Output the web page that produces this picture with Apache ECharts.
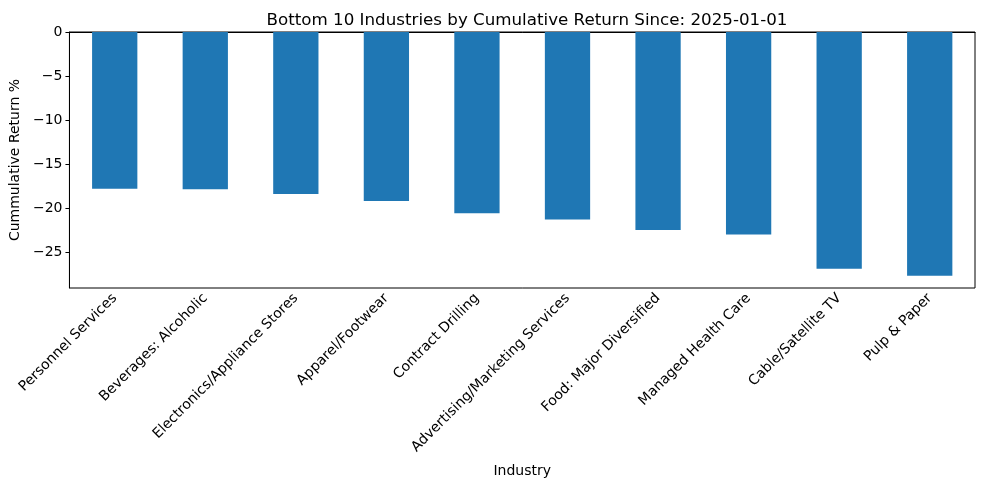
<!DOCTYPE html>
<html>
<head>
<meta charset="utf-8">
<script src="https://cdn.jsdelivr.net/npm/echarts@6/dist/echarts.min.js"></script>
<style>html,body{margin:0;padding:0;background:#fff;}#c{width:985px;height:490px;}</style>
</head>
<body>
<div id="c"></div>
<script>
const categories = ["Personnel Services","Beverages: Alcoholic","Electronics/Appliance Stores","Apparel/Footwear","Contract Drilling","Advertising/Marketing Services","Food: Major Diversified","Managed Health Care","Cable/Satellite TV","Pulp & Paper"];
const values = [-17.8, -17.85, -18.4, -19.2, -20.6, -21.3, -22.5, -23.0, -26.9, -27.7];
const yTicks = [0, -5, -10, -15, -20, -25];

const font = "DejaVu Sans";
const chart = echarts.init(document.getElementById('c'), null, {renderer: 'canvas'});
chart.setOption({
  animation: false,
  title: {
    text: "Bottom 10 Industries by Cumulative Return Since: 2025-01-01",
    left: 522, top: 7, textAlign: 'center',
    textStyle: {fontFamily: font, fontSize: 16.7, fontWeight: 'normal', color: '#000'}
  },
  grid: {left: 69, right: 10, top: 32, bottom: 202, show: true, borderColor: '#000', borderWidth: 1, backgroundColor: 'transparent'},
  xAxis: {
    type: 'category', data: categories,
    name: 'Industry', nameLocation: 'middle', nameGap: 176,
    nameTextStyle: {fontFamily: font, fontSize: 14, color: '#000'},
    axisLine: {show: true, lineStyle: {color: '#000', width: 1}},
    axisTick: {show: true, alignWithLabel: true, length: 4, lineStyle: {color: '#000'}},
    axisLabel: {rotate: 45, interval: 0, margin: 8, fontFamily: font, fontSize: 14, color: '#000'},
    splitLine: {show: false}
  },
  yAxis: {
    type: 'value', min: -29.08, max: 0,
    name: 'Cummulative Return %', nameLocation: 'middle', nameGap: 45, nameRotate: 90,
    nameTextStyle: {fontFamily: font, fontSize: 14, color: '#000'},
    axisLine: {show: true, lineStyle: {color: '#000', width: 1}},
    axisTick: {show: true, length: 4, customValues: yTicks, lineStyle: {color: '#000'}},
    axisLabel: {customValues: yTicks, margin: 7, fontFamily: font, fontSize: 14, color: '#000',
      formatter: v => String(v).replace('-', '\u2212')},
    splitLine: {show: false}
  },
  series: [{
    type: 'bar', data: values, barWidth: '50%',
    itemStyle: {color: '#1f77b4'}
  }]
});
</script>
</body>
</html>
